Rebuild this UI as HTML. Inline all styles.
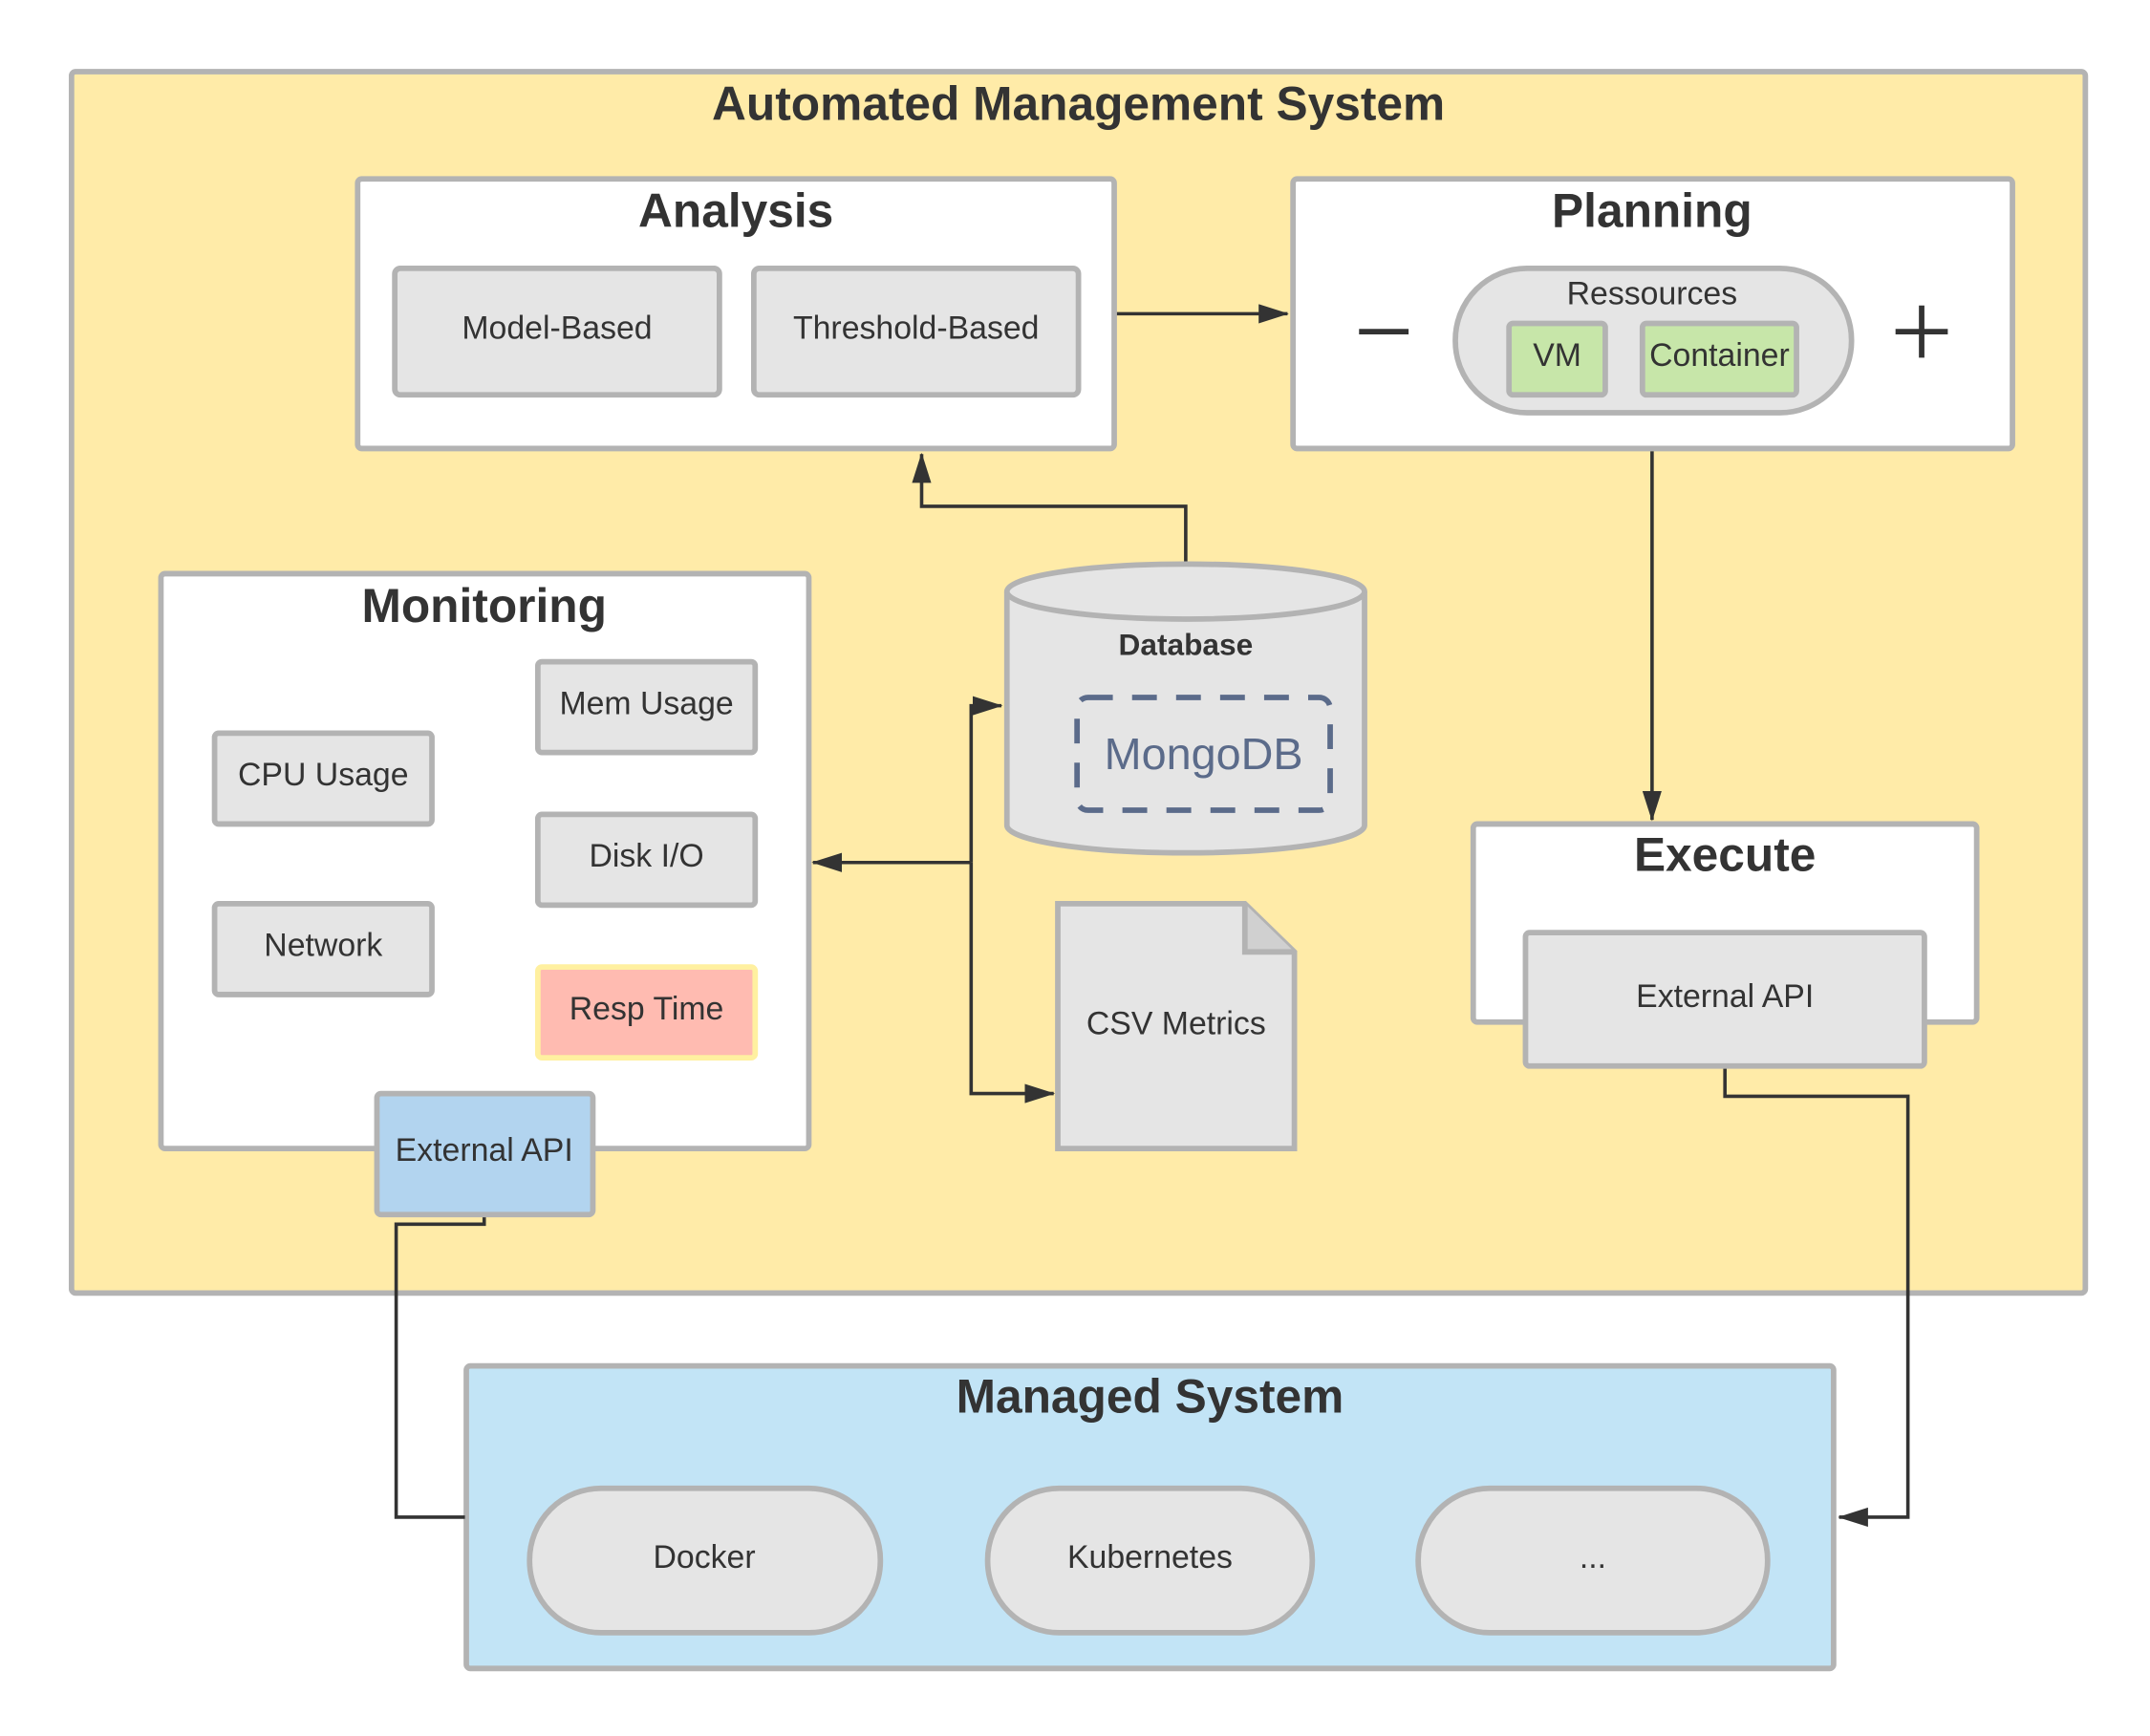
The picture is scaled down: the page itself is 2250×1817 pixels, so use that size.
<!DOCTYPE html>
<html><head><meta charset="utf-8"><style>html,body{margin:0;padding:0;background:#fff}svg{display:block}</style></head>
<body>
<svg width="2250" height="1817" viewBox="0 0 1563 1262" xmlns="http://www.w3.org/2000/svg" font-family="Liberation Sans, sans-serif">
<defs>
<marker id="b" markerWidth="22" markerHeight="14" refX="21" refY="7" orient="auto" markerUnits="userSpaceOnUse"><path d="M0,0 L22,7 L0,14 z" fill="#333"/></marker>
</defs>
<g stroke="#b3b3b3" stroke-width="4">
<rect x="52" y="52" width="1464" height="888" rx="3" fill="#ffeba8"/>
<rect x="260" y="130" width="550" height="196" rx="3" fill="#fff"/>
<rect x="287" y="195" width="236" height="92" rx="4" fill="#e5e5e5"/>
<rect x="548" y="195" width="236" height="92" rx="4" fill="#e5e5e5"/>
<rect x="940" y="130" width="523" height="196" rx="3" fill="#fff"/>
<rect x="1058" y="195" width="288" height="105" rx="52" fill="#e5e5e5"/>
<rect x="1097" y="235" width="70" height="52" rx="3" fill="#c7e6a9"/>
<rect x="1194" y="235" width="112" height="52" rx="3" fill="#c7e6a9"/>
<rect x="117" y="417" width="471" height="418" rx="3" fill="#fff"/>
<rect x="391" y="481" width="158" height="66" rx="3" fill="#e5e5e5"/>
<rect x="156" y="533" width="158" height="66" rx="3" fill="#e5e5e5"/>
<rect x="391" y="592" width="158" height="66" rx="3" fill="#e5e5e5"/>
<rect x="156" y="657" width="158" height="66" rx="3" fill="#e5e5e5"/>
<rect x="391" y="703" width="158" height="66" rx="3" fill="#ffbbb1" stroke="#fff0a0"/>
<rect x="274" y="795" width="157" height="88" rx="3" fill="#b2d4ef"/>
<path d="M732,430 L732,600 A130,20 0 0 0 992,600 L992,430" fill="#e5e5e5"/>
<ellipse cx="862" cy="430" rx="130" ry="20" fill="#e5e5e5"/>
<path d="M769,657 L905,657 L941,692 L941,835 L769,835 z" fill="#e5e5e5"/>
<path d="M905,657 L905,692 L941,692" fill="#d0d0d0"/>
<rect x="1071" y="599" width="366" height="144" rx="3" fill="#fff"/>
<rect x="1109" y="678" width="290" height="97" rx="3" fill="#e5e5e5"/>
<rect x="339" y="993" width="994" height="220" rx="3" fill="#c2e4f6"/>
<rect x="385" y="1082" width="255" height="105" rx="52" fill="#e5e5e5"/>
<rect x="718" y="1082" width="236" height="105" rx="52" fill="#e5e5e5"/>
<rect x="1031" y="1082" width="254" height="105" rx="52" fill="#e5e5e5"/>
</g>
<rect x="783" y="507" width="184" height="82" rx="8" fill="none" stroke="#5b6b8a" stroke-width="4" stroke-dasharray="18,14"/>
<g stroke="#333" stroke-width="2.5" fill="none">
<path d="M812,228 L936,228" marker-end="url(#b)"/>
<path d="M1201,328 L1201,596" marker-end="url(#b)"/>
<path d="M862,408 L862,368 L670,368 L670,330" marker-end="url(#b)"/>
<path d="M706,627 L591,627" marker-end="url(#b)"/>
<path d="M706,627 L706,513 L728,513" marker-end="url(#b)"/>
<path d="M706,627 L706,795 L766,795" marker-end="url(#b)"/>
<path d="M1254,777 L1254,797 L1387,797 L1387,1103 L1337,1103" marker-end="url(#b)"/>
<path d="M352,885 L352,890 L288,890 L288,1103 L338,1103"/>
<path d="M988,241 L1024,241 M1378,241 L1416,241 M1397,222 L1397,260" stroke-width="4"/>
</g>
<g fill="#333" text-anchor="middle">
<text x="784" y="87" font-size="34.5" font-weight="bold">Automated Management System</text>
<text x="535" y="165" font-size="34.5" font-weight="bold">Analysis</text>
<text x="1201" y="165" font-size="34.5" font-weight="bold">Planning</text>
<text x="352" y="452" font-size="34.5" font-weight="bold">Monitoring</text>
<text x="1254" y="633" font-size="34.5" font-weight="bold">Execute</text>
<text x="836" y="1027" font-size="34.5" font-weight="bold">Managed System</text>
<text x="862" y="476" font-size="22" font-weight="bold">Database</text>
<g font-size="23.5">
<text x="405" y="246">Model-Based</text>
<text x="666" y="246">Threshold-Based</text>
<text x="1201" y="221">Ressources</text>
<text x="1132" y="266">VM</text>
<text x="1250" y="266">Container</text>
<text x="470" y="519">Mem Usage</text>
<text x="235" y="571">CPU Usage</text>
<text x="470" y="630">Disk I/O</text>
<text x="235" y="695">Network</text>
<text x="470" y="741">Resp Time</text>
<text x="352" y="844">External API</text>
<text x="855" y="752">CSV Metrics</text>
<text x="1254" y="732">External API</text>
<text x="512" y="1140">Docker</text>
<text x="836" y="1140">Kubernetes</text>
<text x="1158" y="1140">...</text>
</g>
<text x="875" y="559" font-size="32.5" fill="#5b6b8a">MongoDB</text>
</g>
</svg>
</body></html>
